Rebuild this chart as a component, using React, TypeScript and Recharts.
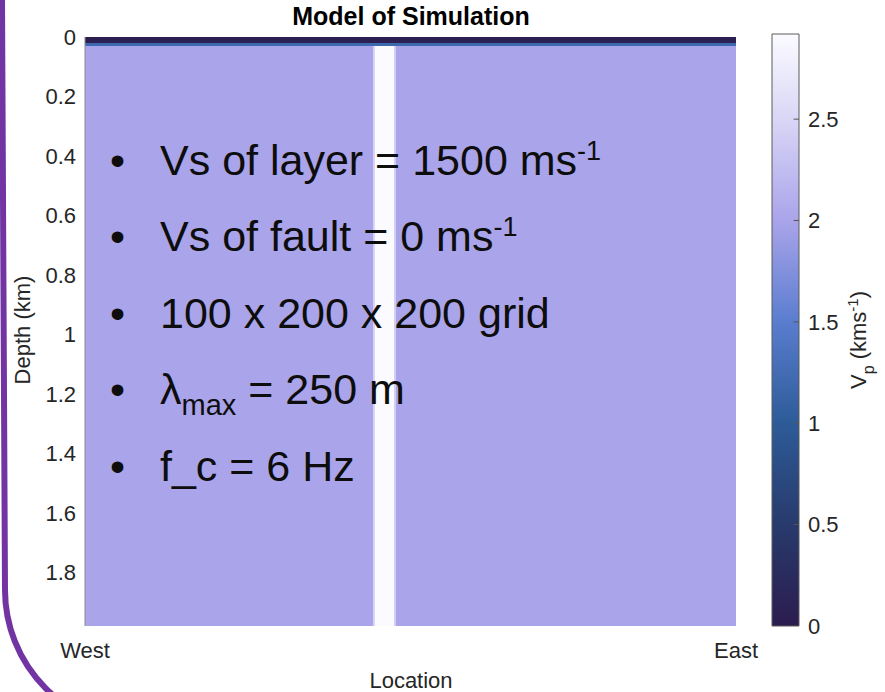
import React from "react";
import { ComposedChart, XAxis, YAxis, ReferenceArea, ReferenceLine } from "recharts";

const FONT = '"Liberation Sans", Arial, Helvetica, sans-serif';

// Colour scale for Vp (km/s)
const vpStops = [0, 0.5, 1, 1.5, 2, 2.5, 2.92];
const vpStopColors = ["#2c1c4f", "#283a6c", "#2d5b98", "#5a7dcf", "#aaa4ea", "#d9d6f6", "#fbfbff"];
const colorbarTicks = [0, 0.5, 1, 1.5, 2, 2.5];

// Model cells: location (0 = West, 200 = East), depth in km, Vp in km/s
const cellX0 = [0, 0, 0, 88.5, 89, 95];
const cellX1 = [200, 200, 200, 89, 95, 95.5];
const cellZ0 = [0.03, 0, 0.02, 0.03, 0.03, 0.03];
const cellZ1 = [1.98, 0.02, 0.03, 1.98, 1.98, 1.98];
const cellVp = [2.0, 0.05, 1.2, 2.5, 2.92, 2.5];

const depthTicks = [0, 0.2, 0.4, 0.6, 0.8, 1, 1.2, 1.4, 1.6, 1.8];
const locationTicks = [0, 200];
const locationNames = ["West", "East"];

const hexToRgb = (h: string) => [1, 3, 5].map((i) => parseInt(h.slice(i, i + 2), 16));

const vpColor = (v: number) => {
  let i = 0;
  while (i < vpStops.length - 2 && v > vpStops[i + 1]) i++;
  const t = Math.max(0, Math.min(1, (v - vpStops[i]) / (vpStops[i + 1] - vpStops[i])));
  const a = hexToRgb(vpStopColors[i]);
  const b = hexToRgb(vpStopColors[i + 1]);
  const c = a.map((x, k) => Math.round(x + (b[k] - x) * t));
  return `rgb(${c[0]},${c[1]},${c[2]})`;
};

const tickStyle = { fill: "#262626", fontSize: 22, fontFamily: FONT };

const W = 885;
const H = 692;

export default function App() {
  const vpMax = vpStops[vpStops.length - 1];
  return (
    <div style={{ position: "absolute", left: 0, top: 0, width: W, height: H, overflow: "hidden", background: "#fff" }}>
      {/* velocity model */}
      <div style={{ position: "absolute", left: 0, top: 0 }}>
        <ComposedChart width={W} height={H} data={[]} margin={{ top: 37, right: 149, bottom: 36, left: 25 }}>
          <XAxis
            type="number"
            dataKey="x"
            domain={[0, 200]}
            ticks={locationTicks}
            tickFormatter={(v: number) => locationNames[locationTicks.indexOf(v)]}
            tickSize={0}
            tickMargin={16}
            axisLine={false}
            height={30}
            tick={tickStyle}
            allowDataOverflow
          />
          <YAxis
            type="number"
            dataKey="z"
            domain={[0, 1.98]}
            reversed
            ticks={depthTicks}
            tickSize={0}
            tickMargin={9}
            width={60}
            axisLine={{ stroke: "#8a8a8a" }}
            tick={tickStyle}
            allowDataOverflow
          />
          {cellVp.map((v, i) => (
            <ReferenceArea
              key={i}
              x1={cellX0[i]}
              x2={cellX1[i]}
              y1={cellZ0[i]}
              y2={cellZ1[i]}
              fill={vpColor(v)}
              fillOpacity={1}
              stroke="none"
              ifOverflow="visible"
            />
          ))}
        </ComposedChart>
      </div>

      {/* colorbar */}
      <div style={{ position: "absolute", left: 0, top: 0 }}>
        <ComposedChart width={W} height={H} data={[]} margin={{ top: 34, right: 36, bottom: 66, left: 772 }}>
          <defs>
            <linearGradient id="vpGradient" x1="0" y1="1" x2="0" y2="0">
              {vpStops.map((s, i) => (
                <stop key={i} offset={s / vpMax} stopColor={vpStopColors[i]} />
              ))}
            </linearGradient>
          </defs>
          <XAxis type="number" dataKey="x" domain={[0, 1]} hide allowDataOverflow />
          <YAxis
            type="number"
            dataKey="v"
            orientation="right"
            domain={[0, vpMax]}
            ticks={colorbarTicks}
            tickSize={0}
            tickMargin={9}
            width={50}
            axisLine={false}
            tick={{ ...tickStyle, textAnchor: "start" }}
            allowDataOverflow
          />
          <ReferenceArea
            x1={0}
            x2={1}
            y1={0}
            y2={vpMax}
            fill="url(#vpGradient)"
            fillOpacity={1}
            stroke="#5a5a5a"
            strokeWidth={1}
            ifOverflow="visible"
          />
          {colorbarTicks.slice(1).map((t) => (
            <ReferenceLine
              key={t}
              segment={[{ x: 0.8, y: t }, { x: 1, y: t }]}
              stroke="#555"
              strokeWidth={1}
              ifOverflow="visible"
            />
          ))}
        </ComposedChart>
      </div>

      {/* titles, labels and slide text */}
      <svg width={W} height={H} style={{ position: "absolute", left: 0, top: 0, pointerEvents: "none" }} fontFamily={FONT}>
        <path d="M 2 0 L 5 590 A 139 139 0 0 0 144 729" fill="none" stroke="#7233a3" strokeWidth={6} />

        <text x={411} y={25} textAnchor="middle" fontSize={25} fontWeight="bold" fill="#000">
          Model of Simulation
        </text>
        <text x={411} y={688} textAnchor="middle" fontSize={22} fill="#262626">
          Location
        </text>
        <text transform="translate(30,330) rotate(-90)" textAnchor="middle" fontSize={22} fill="#262626">
          Depth (km)
        </text>
        <text transform="translate(866,340) rotate(-90)" textAnchor="middle" fontSize={22} fill="#262626">
          V<tspan dy={8} fontSize={16}>p</tspan>
          <tspan dy={-8} fontSize={22}> (kms</tspan>
          <tspan dy={-8} fontSize={15}>-1</tspan>
          <tspan dy={8} fontSize={22}>)</tspan>
        </text>

        <g fontSize={43} fill="#0d0d0d">
          <text x={110} y={175}>•</text>
          <text x={160} y={175}>
            Vs of layer = 1500 ms<tspan dy={-15} fontSize={27}>-1</tspan>
          </text>
          <text x={110} y={251}>•</text>
          <text x={160} y={251}>
            Vs of fault = 0 ms<tspan dy={-15} fontSize={27}>-1</tspan>
          </text>
          <text x={110} y={328}>•</text>
          <text x={160} y={328}>100 x 200 x 200 grid</text>
          <text x={110} y={404}>•</text>
          <text x={160} y={404}>
            λ<tspan dy={11} fontSize={29}>max</tspan>
            <tspan dy={-11}> = 250 m</tspan>
          </text>
          <text x={110} y={481}>•</text>
          <text x={160} y={481}>f_c = 6 Hz</text>
        </g>
      </svg>
    </div>
  );
}
